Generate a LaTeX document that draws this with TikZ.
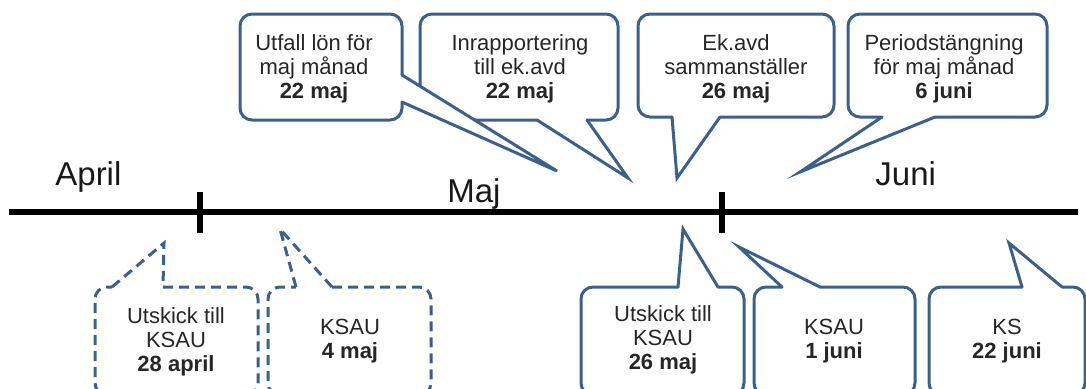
\documentclass[tikz,border=0pt]{standalone}
\usepackage{fontspec}
\setmainfont{Liberation Sans}
\definecolor{bubbleblue}{RGB}{60,96,140}

\begin{document}
\begin{tikzpicture}[x=0.5pt,y=-0.5pt,
	bubble/.style={draw=bubbleblue,line width=1.5pt,line cap=round,line join=miter},
	dashbubble/.style={draw=bubbleblue,line width=1.5pt,dash pattern=on 5pt off 3pt},
	roundbox/.style={rounded corners=6pt},
	bubbletext/.style={align=center,text=black!85,font=\fontsize{11}{12}\selectfont},
	month/.style={anchor=base west,inner sep=0pt,text=black!90,font=\fontsize{16.5}{18}\selectfont},
	axis/.style={draw=black,line width=2.8pt}]
	\useasboundingbox (0,0) rectangle (1086,388);
	\clip (0,0) rectangle (1086,388);

	\coordinate (linestart) at (9,212);
	\coordinate (lineend) at (1078,212);
	\coordinate (maytop) at (200,192);
	\coordinate (maybot) at (200,233);
	\coordinate (junetop) at (722,192);
	\coordinate (junebot) at (722,233);
	\draw[axis] (linestart) -- (lineend);
	\draw[axis] (maytop) -- (maybot);
	\draw[axis] (junetop) -- (junebot);

	\node[month] (april) at (55,185) {April};
	\node[month] (maj) at (447,202) {Maj};
	\node[month] (juni) at (875,185) {Juni};

	\draw[bubble,roundbox] (587,120) -- (618,120) -- (618,14) -- (420,14) -- (420,98);
	\draw[bubble] (450,120) -- (537,120) -- (628,178) -- (587,120);
	\fill[white,roundbox] (240,14) rectangle (402,120);
	\fill[white] (402,75) -- (557,171) -- (402,102) -- cycle;
	\draw[bubble,roundbox] (402,75) -- (402,14) -- (240,14) -- (240,120) -- (402,120) -- (402,102);
	\draw[bubble] (402,102) -- (557,171) -- (402,75);
	\draw[bubble,roundbox] (720,117) -- (834,117) -- (834,14) -- (638,14) -- (638,117) -- (672,117);
	\draw[bubble] (672,117) -- (677,178) -- (720,117);
	\draw[bubble,roundbox] (935,117) -- (1047,117) -- (1047,14) -- (848,14) -- (848,117) -- (882,117);
	\draw[bubble] (882,117) -- (800,172) -- (935,117);

	\draw[dashbubble,roundbox] (163,287) -- (258,287) -- (258,395) -- (95,395) -- (95,287) -- (112,287);
	\draw[dashbubble] (112,287) -- (164,243) -- (163,287);
	\draw[dashbubble,roundbox] (332,287) -- (431,287) -- (431,395) -- (268,395) -- (268,287) -- (296,287);
	\draw[dashbubble] (296,287) -- (280,229) -- (332,287);
	\draw[bubble,roundbox] (718,287) -- (744,287) -- (744,395) -- (581,395) -- (581,287) -- (678,287);
	\draw[bubble] (678,287) -- (683,229) -- (718,287);
	\draw[bubble,roundbox] (820,287) -- (915,287) -- (915,395) -- (754,395) -- (754,287) -- (782,287);
	\draw[bubble] (782,287) -- (739,247) -- (820,287);
	\draw[bubble,roundbox] (1062,287) -- (1085,287) -- (1085,395) -- (929,395) -- (929,287) -- (1022,287);
	\draw[bubble] (1022,287) -- (1009,243) -- (1062,287);

	\node[bubbletext] (utfall) at (314,69) {Utfall lön för\\maj månad\\\textbf{22 maj}};
	\node[bubbletext] (inrapp) at (520,69) {Inrapportering\\till ek.avd\\\textbf{22 maj}};
	\node[bubbletext] (ekavd) at (736,69) {Ek.avd\\sammanställer\\\textbf{26 maj}};
	\node[bubbletext] (period) at (944,69) {Periodstängning\\för maj månad\\\textbf{6 juni}};
	\node[bubbletext] (utskickapr) at (176,342) {Utskick till\\KSAU\\\textbf{28 april}};
	\node[bubbletext] (ksaumaj) at (350,341) {KSAU\\\textbf{4 maj}};
	\node[bubbletext] (utskickmaj) at (663,340) {Utskick till\\KSAU\\\textbf{26 maj}};
	\node[bubbletext] (ksaujuni) at (834,341) {KSAU\\\textbf{1 juni}};
	\node[bubbletext] (ks) at (1007,341) {KS\\\textbf{22 juni}};
\end{tikzpicture}
\end{document}
